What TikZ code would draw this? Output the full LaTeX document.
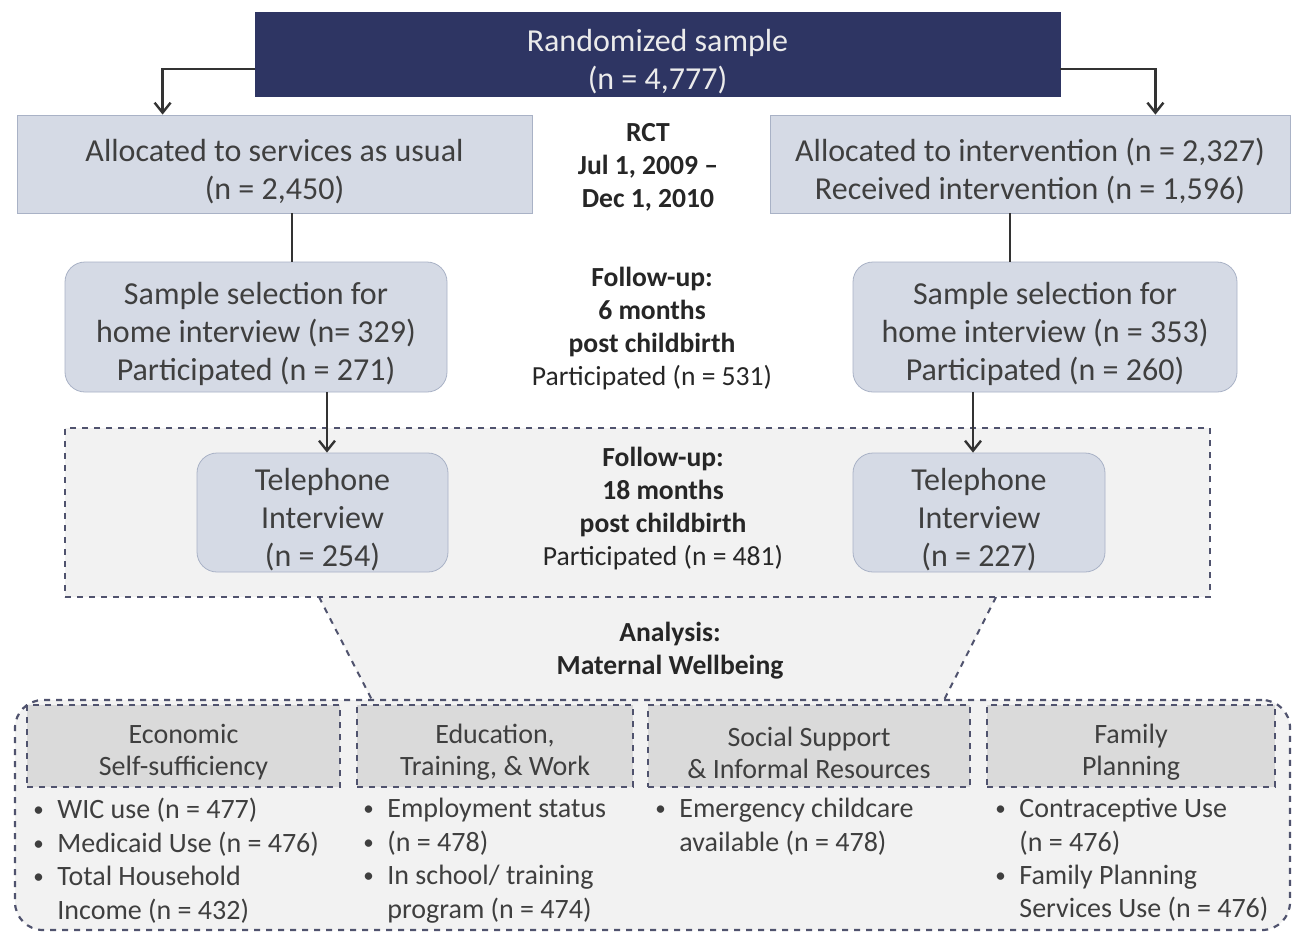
\documentclass[tikz,border=0pt]{standalone}
\usepackage{fontspec}
\setmainfont{Carlito}
\usepackage{tikz}
\usetikzlibrary{arrows.meta, positioning, calc}
\definecolor{rct_navy}{RGB}{46, 53, 99}
\definecolor{rct_box}{RGB}{213, 218, 229}
\definecolor{rct_edge}{RGB}{169, 178, 198}
\definecolor{rct_panel}{RGB}{242, 242, 242}
\definecolor{rct_cat}{RGB}{218, 218, 218}
\definecolor{rct_dash}{RGB}{80, 83, 110}
\definecolor{rct_line}{RGB}{51, 51, 51}
\definecolor{rct_text}{RGB}{63, 63, 63}
\newcommand{\bul}{\makebox[12pt][l]{\raisebox{0.15ex}{\scalebox{0.75}{•}}}}
\newcommand{\topgap}{\rule{0pt}{18.5pt}}
\newcommand{\catgap}{\rule{0pt}{16.2pt}}

\begin{document}
\begin{tikzpicture}[x=0.5pt, y=-0.5pt,
    box/.style={draw=rct_edge, fill=rct_box, text=rct_text, align=center,
                font=\fontsize{16}{19}\selectfont, inner sep=0pt},
    roundbox/.style={box, rounded corners=10pt},
    panel/.style={draw=rct_dash, fill=rct_panel, dashed, line width=1.1pt},
    catbox/.style={draw=rct_dash, fill=rct_cat, dashed, line width=1pt,
                   text=rct_text, align=center, inner sep=0pt,
                   font=\fontsize{14}{16}\selectfont},
    midtext/.style={align=center, text=black!85,
                    font=\fontsize{13.8}{16.5}\selectfont},
    bullets/.style={anchor=north west, align=left, inner sep=0pt,
                    text=rct_text, font=\fontsize{14}{16.7}\selectfont},
    arr/.style={-{Straight Barb[length=5pt, width=8pt]}, draw=rct_line, line width=1.2pt},
    link/.style={draw=rct_line, line width=1.2pt}]
  \fill[white] (0,0) rectangle (1293,933);
  \useasboundingbox (0,0) rectangle (1293,933);

  % randomisation
  \node[draw=rct_navy, fill=rct_navy, text=white!92!black, align=center,
        font=\fontsize{16}{19}\selectfont, minimum width=402.5pt,
        minimum height=42pt, inner sep=0pt] (sample) at (657.5,54)
        {\topgap Randomized sample\\(n = 4,777)};

  \node[box, minimum width=257.5pt, minimum height=49pt] (usual) at (274.5,164)
        {\topgap Allocated to services as usual\\(n = 2,450)};
  \node[box, minimum width=260pt, minimum height=49pt] (interv) at (1030,164)
        {\topgap Allocated to intervention (n = 2,327)\\Received intervention (n = 1,596)};
  \node[midtext] (rct) at (648,167) {\textbf{RCT}\\\textbf{Jul 1, 2009 –}\\\textbf{Dec 1, 2010}};

  % 6 months
  \node[roundbox, minimum width=191pt, minimum height=65pt] (home1) at (256,327)
        {\topgap Sample selection for\\home interview (n= 329)\\Participated (n = 271)};
  \node[roundbox, minimum width=192pt, minimum height=65pt] (home2) at (1045,327)
        {\topgap Sample selection for\\home interview (n = 353)\\Participated (n = 260)};
  \node[midtext] (fu6) at (652,329)
        {\textbf{Follow-up:}\\\textbf{6 months}\\\textbf{post childbirth}\\Participated (n = 531)};

  % 18 months
  \coordinate (tl) at (319,597);
  \coordinate (tr) at (996,597);
  \coordinate (bl) at (372,700);
  \coordinate (br) at (944,700);
  \fill[rct_panel] (tl) -- (tr) -- (br) -- (bl) -- cycle;
  \draw[rct_dash, dashed, line width=1pt] (tl) -- (bl);
  \draw[rct_dash, dashed, line width=1pt] (tr) -- (br);

  \node[panel, minimum width=572.5pt, minimum height=84.5pt, inner sep=0pt]
        (follow) at (637.5,512.5) {};
  \node[roundbox, minimum width=125.5pt, minimum height=59.5pt] (tel1) at (322.5,512.5)
        {\topgap Telephone\\Interview\\(n = 254)};
  \node[roundbox, minimum width=126pt, minimum height=59.5pt] (tel2) at (979,512.5)
        {\topgap Telephone\\Interview\\(n = 227)};
  \node[midtext] (fu18) at (663,509)
        {\textbf{Follow-up:}\\\textbf{18 months}\\\textbf{post childbirth}\\Participated (n = 481)};

  \node[midtext] (analysis) at (670,651) {\textbf{Analysis:}\\\textbf{Maternal Wellbeing}};

  % outcome domains
  \node[panel, rounded corners=14pt, minimum width=637.5pt, minimum height=115pt,
        inner sep=0pt] (domains) at (652.5,815) {};
  \node[catbox, minimum width=156.5pt, minimum height=41pt] (econ) at (183.5,746)
        {\catgap Economic\\Self-sufficiency};
  \node[catbox, minimum width=138pt, minimum height=41pt] (educ) at (495,746)
        {\catgap Education,\\Training, \& Work};
  \node[catbox, minimum width=161pt, minimum height=41pt] (social) at (809,746)
        {\catgap Social Support\\\& Informal Resources};
  \node[catbox, minimum width=144pt, minimum height=41pt] (family) at (1131,746)
        {\catgap Family\\Planning};

  \node[bullets] (econlist) at (33,798)
        {\bul WIC use (n = 477)\\
         \bul Medicaid Use (n = 476)\\
         \bul Total Household\\
         \hspace*{12pt}Income (n = 432)};
  \node[bullets] (educlist) at (363,798)
        {\bul Employment status\\
         \bul (n = 478)\\
         \bul In school/ training\\
         \hspace*{12pt}program (n = 474)};
  \node[bullets] (sociallist) at (655,798)
        {\bul Emergency childcare\\
         \hspace*{12pt}available (n = 478)};
  \node[bullets] (familylist) at (995,798)
        {\bul Contraceptive Use\\
         \hspace*{12pt}(n = 476)\\
         \bul Family Planning\\
         \hspace*{12pt}Services Use (n = 476)};

  % connectors
  \draw[arr] ([yshift=-7.5pt]sample.west) -| ([xshift=73pt]usual.north west);
  \draw[arr] ([yshift=-7.5pt]sample.east) -| ([xshift=-67.5pt]interv.north east);
  \draw[link] ([xshift=8.75pt]usual.south) -- ([xshift=8.75pt]usual.south |- home1.north);
  \draw[link] ([xshift=-10pt]interv.south) -- ([xshift=-10pt]interv.south |- home2.north);
  \draw[arr] ([xshift=35.5pt]home1.south) -- ([xshift=35.5pt]home1.south |- tel1.north);
  \draw[arr] ([xshift=-36pt]home2.south) -- ([xshift=-36pt]home2.south |- tel2.north);
\end{tikzpicture}
\end{document}
